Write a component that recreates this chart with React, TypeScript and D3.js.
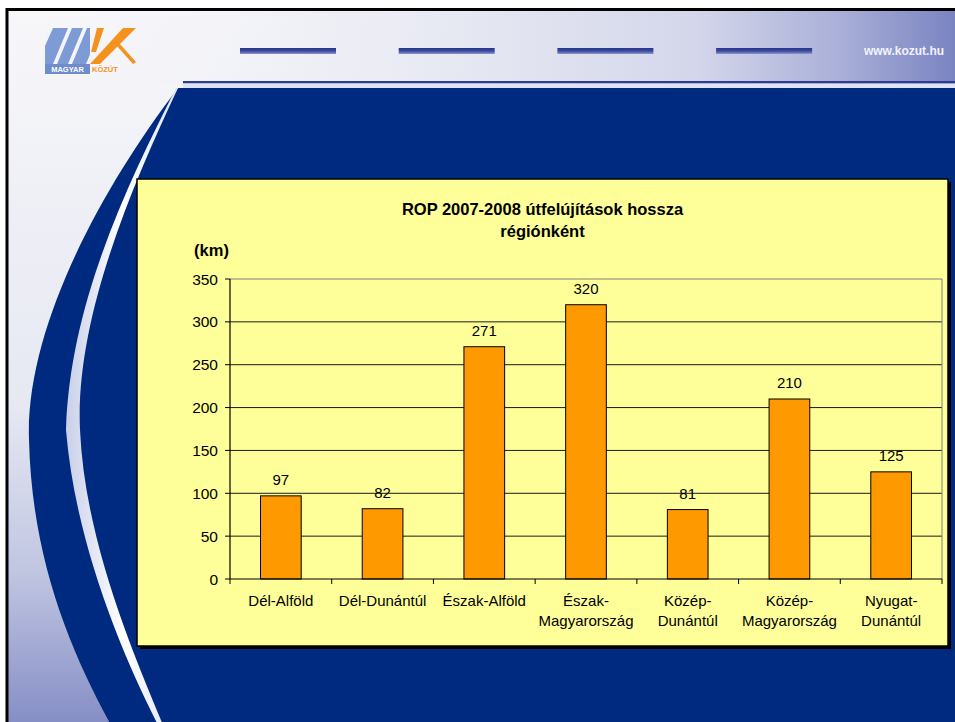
import React from 'react';
import * as d3 from 'd3';

const categories: string[][] = [
  ['Dél-Alföld'],
  ['Dél-Dunántúl'],
  ['Észak-Alföld'],
  ['Észak-', 'Magyarország'],
  ['Közép-', 'Dunántúl'],
  ['Közép-', 'Magyarország'],
  ['Nyugat-', 'Dunántúl'],
];
const values: number[] = [97, 82, 271, 320, 81, 210, 125];
const yTicks: number[] = [0, 50, 100, 150, 200, 250, 300, 350];
const titleLines: string[] = ['ROP 2007-2008 útfelújítások hossza', 'régiónként'];
const yUnit = '(km)';
const siteText = 'www.kozut.hu';
const logoTexts = ['MAGYAR', 'KÖZÚT'];
const headerDashes = [0, 1, 2, 3];

const W = 955;
const H = 722;
const PL = 230;
const PR = 942;
const PT = 279;
const PB = 579;
const FONT = "'Liberation Sans', Arial, Helvetica, sans-serif";
const BLUE = '#002a7f';

export default function App() {
  const keys = categories.map((c) => c.join(' '));
  const x = d3.scaleBand<string>().domain(keys).range([PL, PR]).padding(0);
  const y = d3.scaleLinear().domain([0, 350]).range([PB, PT]);
  const bw = x.bandwidth() / 2.5;

  const outerCurve = d3.path();
  outerCurve.moveTo(178, 88);
  outerCurve.lineTo(W + 5, 88);
  outerCurve.lineTo(W + 5, H + 5);
  outerCurve.lineTo(112, H + 5);
  outerCurve.bezierCurveTo(70, 650, 32, 560, 29, 440);
  outerCurve.bezierCurveTo(25, 330, 100, 190, 178, 88);
  outerCurve.closePath();

  const stripe = d3.path();
  stripe.moveTo(176, 88);
  stripe.bezierCurveTo(130, 180, 70, 300, 66, 430);
  stripe.bezierCurveTo(75, 540, 120, 650, 158, 725);
  stripe.lineTo(163, 725);
  stripe.bezierCurveTo(132, 650, 85, 540, 80, 430);
  stripe.bezierCurveTo(75, 320, 130, 190, 178, 88);
  stripe.closePath();

  return (
    <svg
      width={W}
      height={H}
      style={{ position: 'absolute', left: 0, top: 0, display: 'block' }}
      fontFamily={FONT}
    >
      <defs>
        <linearGradient id="leftGrad" x1="0" y1="0" x2="0" y2="1">
          <stop offset="0" stopColor="#f7f7fa" />
          <stop offset="0.55" stopColor="#e6e8f2" />
          <stop offset="0.78" stopColor="#c0c5e1" />
          <stop offset="1" stopColor="#828bc4" />
        </linearGradient>
        <linearGradient id="headGrad" x1="0" y1="0" x2="1" y2="0">
          <stop offset="0" stopColor="#f7f7fa" stopOpacity="0" />
          <stop offset="0.5" stopColor="#e4e6f1" />
          <stop offset="0.72" stopColor="#d4d7eb" />
          <stop offset="0.87" stopColor="#aab0d8" />
          <stop offset="1" stopColor="#7781c0" />
        </linearGradient>
        <linearGradient id="dashGrad" x1="0" y1="0" x2="0" y2="1">
          <stop offset="0" stopColor="#26358a" />
          <stop offset="0.5" stopColor="#3a4a9e" />
          <stop offset="1" stopColor="#8e96cc" />
        </linearGradient>
        <linearGradient id="stripeGrad" x1="0" y1="0" x2="1" y2="0">
          <stop offset="0" stopColor="#c8cfe8" />
          <stop offset="0.5" stopColor="#ffffff" />
          <stop offset="1" stopColor="#dfe4f4" />
        </linearGradient>
      </defs>

      {/* page */}
      <rect x={0} y={0} width={W} height={H} fill="#ffffff" />
      <rect x={7} y={10} width={W} height={H} fill="url(#leftGrad)" />
      <rect x={7} y={10} width={W} height={74} fill="url(#headGrad)" />

      {/* header line */}
      <rect x={183} y={81} width={W - 183} height={2.5} fill="#2c3d92" />
      <rect x={183} y={83.5} width={W - 183} height={4.5} fill="#dfe3f2" />

      {/* blue body */}
      <path d={outerCurve.toString()} fill={BLUE} />
      <path d={stripe.toString()} fill="url(#stripeGrad)" />

      {/* header dashes */}
      {headerDashes.map((i) => (
        <rect key={i} x={240 + i * 158.7} y={48} width={96} height={6} fill="url(#dashGrad)" />
      ))}
      <text
        x={864}
        y={55}
        fontSize={12}
        fontWeight="bold"
        fill="#f2f3fb"
        textLength={80}
        lengthAdjust="spacingAndGlyphs"
      >
        {siteText}
      </text>

      {/* logo */}
      <g>
        <rect x={45} y={28} width={45} height={36} fill="#7f9bd6" />
        <polygon points="53,64 57,64 72,28 68,28" fill="#f4f5f9" />
        <polygon points="68,64 72,64 87,28 83,28" fill="#f4f5f9" />
        <polygon points="45,28 53,28 45,46" fill="#f4f5f9" />
        <polygon points="86,64 91,64 91,52" fill="#f4f5f9" />
        <polygon points="90,64 100,64 136,28 123,28" fill="#f5921e" />
        <polygon points="97,28 104,28 96,52 91,52" fill="#f5921e" />
        <polygon points="116,45 119,43 136,62 133,64" fill="#f5921e" />
        <rect x={45} y={64} width={45} height={10} fill="#6f8ccc" />
        <text x={67.5} y={72} fontSize={7.5} fontWeight="bold" fill="#ffffff" textAnchor="middle">
          {logoTexts[0]}
        </text>
        <text x={92} y={72} fontSize={7.5} fontWeight="bold" fill="#f5921e">
          {logoTexts[1]}
        </text>
      </g>

      {/* slide frame */}
      <line x1={7} y1={9.5} x2={W} y2={9.5} stroke="#000" strokeWidth={3} />
      <line x1={7} y1={8} x2={7} y2={H} stroke="#000" strokeWidth={3} />

      {/* chart box */}
      <rect x={140} y={182} width={811} height={467} fill="#000" />
      <rect x={137} y={179} width={811} height={467} fill="#ffff99" stroke="#000" strokeWidth={1.5} />

      {/* title */}
      {titleLines.map((t, i) => (
        <text
          key={i}
          x={542.5}
          y={215 + i * 22}
          fontSize={16.5}
          fontWeight="bold"
          textAnchor="middle"
          fill="#000"
        >
          {t}
        </text>
      ))}
      <text x={211.5} y={256} fontSize={16.5} fontWeight="bold" textAnchor="middle" fill="#000">
        {yUnit}
      </text>

      {/* gridlines */}
      {yTicks
        .filter((v) => v > 0)
        .map((v) => (
          <line
            key={v}
            x1={PL}
            x2={PR}
            y1={y(v)}
            y2={y(v)}
            stroke={v === 350 ? '#808080' : '#1a1a1a'}
            strokeWidth={1}
          />
        ))}
      <line x1={PR} x2={PR} y1={PT} y2={PB} stroke="#808080" strokeWidth={1} />

      {/* bars */}
      {values.map((v, i) => {
        const cx = (x(keys[i]) as number) + x.bandwidth() / 2;
        return (
          <g key={i}>
            <rect
              x={cx - bw / 2}
              y={y(v)}
              width={bw}
              height={PB - y(v)}
              fill="#ff9900"
              stroke="#000"
              strokeWidth={1}
            />
            <text x={cx} y={y(v) - 11} fontSize={15} textAnchor="middle" fill="#000">
              {v}
            </text>
          </g>
        );
      })}

      {/* axes */}
      <line x1={PL} x2={PL} y1={PT} y2={PB} stroke="#000" strokeWidth={1.2} />
      <line x1={PL} x2={PR} y1={PB} y2={PB} stroke="#000" strokeWidth={1.2} />
      {yTicks.map((v) => (
        <g key={v}>
          <line x1={PL - 5} x2={PL} y1={y(v)} y2={y(v)} stroke="#000" strokeWidth={1} />
          <text x={218} y={y(v) + 5.5} fontSize={15.5} textAnchor="end" fill="#000">
            {v}
          </text>
        </g>
      ))}
      {keys.concat(['__end']).map((k, i) => {
        const xx = i < keys.length ? (x(k) as number) : PR;
        return <line key={k} x1={xx} x2={xx} y1={PB} y2={PB + 5} stroke="#000" strokeWidth={1} />;
      })}
      {categories.map((lines, i) => {
        const cx = (x(keys[i]) as number) + x.bandwidth() / 2;
        return (
          <text key={i} x={cx} fontSize={15} textAnchor="middle" fill="#000">
            {lines.map((l, j) => (
              <tspan key={j} x={cx} y={606 + j * 19.5}>
                {l}
              </tspan>
            ))}
          </text>
        );
      })}
    </svg>
  );
}
